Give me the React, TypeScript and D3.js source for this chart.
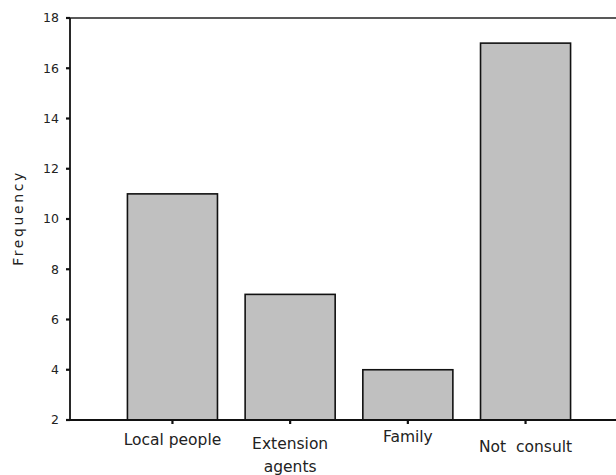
import React from "react";
import * as d3 from "d3";

const categories: string[][] = [["Local people"], ["Extension", "agents"], ["Family"], ["Not  consult"]];
const frequencies: number[] = [11, 7, 4, 17];
const yTicks: number[] = [2, 4, 6, 8, 10, 12, 14, 16, 18];
const labelCenters: number[] = [440, 444, 437, 447];

const W = 616;
const H = 475;

export default function App() {
  const keys = categories.map((c) => c.join(" "));
  const x = d3
    .scaleBand<string>()
    .domain(keys)
    .range([113.6, 584.4])
    .paddingInner(0.235)
    .paddingOuter(0.1175);
  const y = d3.scaleLinear().domain([2, 18]).range([420, 18]);
  const axisX = 70;
  const font = "'DejaVu Sans', Verdana, sans-serif";

  return (
    <svg
      width={W}
      height={H}
      style={{ position: "absolute", left: 0, top: 0, background: "#fff" }}
      fontFamily={font}
    >
      <rect x={0} y={0} width={W} height={H} fill="#fff" />
      {keys.map((k, i) => (
        <rect
          key={k}
          x={x(k)}
          y={y(frequencies[i])}
          width={x.bandwidth()}
          height={y(2) - y(frequencies[i])}
          fill="#c0c0c0"
          stroke="#111"
          strokeWidth={1.6}
        />
      ))}
      <line x1={axisX} x2={W} y1={y(18)} y2={y(18)} stroke="#222" strokeWidth={1.6} />
      <line x1={axisX} x2={axisX} y1={y(18)} y2={y(2)} stroke="#111" strokeWidth={1.8} />
      <line x1={axisX - 3} x2={W} y1={y(2)} y2={y(2)} stroke="#111" strokeWidth={1.8} />
      {yTicks.map((t) => (
        <g key={t}>
          <line x1={axisX - 4} x2={axisX} y1={y(t)} y2={y(t)} stroke="#111" strokeWidth={2.2} />
          <text x={59} y={y(t)} dy="0.35em" textAnchor="end" fontSize={12.5} fill="#222">
            {t}
          </text>
        </g>
      ))}
      {keys.map((k, i) => {
        const cx = (x(k) as number) + x.bandwidth() / 2;
        return (
          <g key={k}>
            <line x1={cx} x2={cx} y1={y(2)} y2={y(2) + 4} stroke="#111" strokeWidth={2.2} />
            {categories[i].map((line, j) => (
              <text
                key={j}
                x={cx}
                y={labelCenters[i] + j * 23}
                dy="0.35em"
                textAnchor="middle"
                fontSize={15.5}
                fill="#222"
                style={{ whiteSpace: "pre" }}
              >
                {line}
              </text>
            ))}
          </g>
        );
      })}
      <text
        transform={`translate(18,218) rotate(-90)`}
        dy="0.35em"
        textAnchor="middle"
        fontSize={14}
        fill="#222"
        letterSpacing={2.6}
      >
        Frequency
      </text>
    </svg>
  );
}
